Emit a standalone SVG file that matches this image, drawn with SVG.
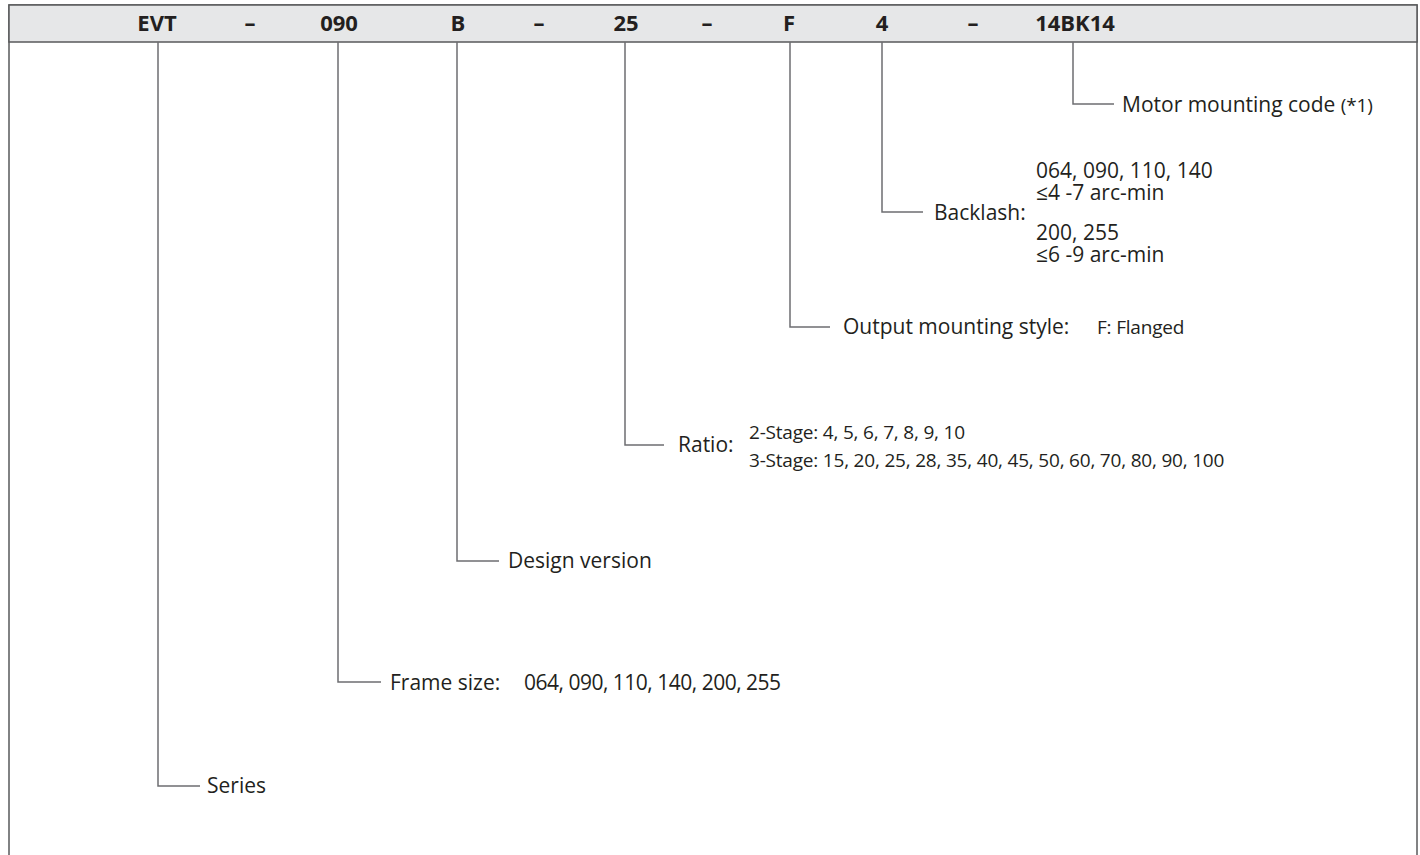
<svg xmlns="http://www.w3.org/2000/svg" width="1420" height="855" viewBox="0 0 1420 855">
<style>
.frame{fill:#ffffff;stroke:#58595b;stroke-width:1.5}
.band{fill:#e6e7e8;stroke:#58595b;stroke-width:1.5}
.hd{font-family:"Open Sans","Noto Sans","Liberation Sans",sans-serif;font-weight:700;font-size:22px;fill:#231f20;text-anchor:middle}
.lbl{font-family:"Open Sans","Noto Sans","Liberation Sans",sans-serif;font-size:21px;fill:#231f20}
.sm{font-family:"Open Sans","Noto Sans","Liberation Sans",sans-serif;font-size:19px;fill:#231f20;letter-spacing:-0.2px}
.con{fill:none;stroke:#6d6e71;stroke-width:1.5}
</style>
<rect class="frame" x="9" y="5" width="1408" height="870"/>
<g id="header">
<rect class="band" x="9" y="5" width="1408" height="37"/>
<text class="hd" x="157" y="31">EVT</text>
<text class="hd" x="250" y="31">–</text>
<text class="hd" x="339" y="31">090</text>
<text class="hd" x="458" y="31">B</text>
<text class="hd" x="539" y="31">–</text>
<text class="hd" x="626" y="31">25</text>
<text class="hd" x="707" y="31">–</text>
<text class="hd" x="789" y="31">F</text>
<text class="hd" x="882" y="31">4</text>
<text class="hd" x="973" y="31">–</text>
<text class="hd" x="1075" y="31">14BK14</text>
</g>
<g id="connectors">
<path class="con" d="M158 42V786H200"/>
<path class="con" d="M338 42V682H381"/>
<path class="con" d="M457 42V561H499"/>
<path class="con" d="M625 42V445H664"/>
<path class="con" d="M790 42V327H830"/>
<path class="con" d="M882 42V212H923"/>
<path class="con" d="M1073 42V104H1114"/>
</g>
<g id="series"><text class="lbl" x="207" y="793">Series</text></g>
<g id="frame-size"><text class="lbl" x="390" y="690">Frame size:<tspan x="524" letter-spacing="-0.5">064, 090, 110, 140, 200, 255</tspan></text></g>
<g id="design-version"><text class="lbl" x="508" y="568">Design version</text></g>
<g id="ratio">
<text class="lbl" x="678" y="452">Ratio:</text>
<text class="sm" x="749" y="439">2-Stage: 4, 5, 6, 7, 8, 9, 10</text>
<text class="sm" x="749" y="467">3-Stage: 15, 20, 25, 28, 35, 40, 45, 50, 60, 70, 80, 90, 100</text>
</g>
<g id="output-mounting">
<text class="lbl" x="843" y="334">Output mounting style:</text>
<text class="sm" x="1097" y="334">F: Flanged</text>
</g>
<g id="backlash">
<text class="lbl" x="934" y="220">Backlash:</text>
<text class="lbl" x="1036" y="178">064, 090, 110, 140</text>
<text class="lbl" x="1036" y="200">≤4 -7 arc-min</text>
<text class="lbl" x="1036" y="240">200, 255</text>
<text class="lbl" x="1036" y="262">≤6 -9 arc-min</text>
</g>
<g id="motor-mounting">
<text class="lbl" x="1122" y="112">Motor mounting code <tspan class="sm">(*1)</tspan></text>
</g>
</svg>
